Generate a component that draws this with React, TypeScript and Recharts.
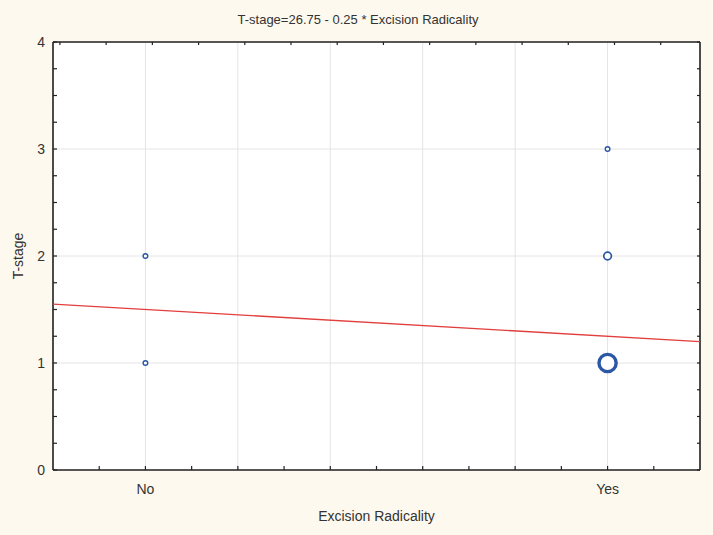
import React from "react"
import { ScatterChart, Scatter, XAxis, YAxis, CartesianGrid } from "recharts"

// Excision Radicality coded 0 = No, 1 = Yes
const categoryValues = [0, 1]
const categoryNames = ["No", "Yes"]

const xMinorTicks = [-0.1, 0, 0.1, 0.2, 0.3, 0.4, 0.5, 0.6, 0.7, 0.8, 0.9, 1, 1.1]
// the top frame's ticks sit off the grid in the original
const xTopTicks = [-0.185, -0.085, 0.015, 0.115, 0.215, 0.315, 0.415, 0.515, 0.615, 0.715, 0.815, 0.915, 1.015, 1.115]
const yMinorTicks = [0, 0.25, 0.5, 0.75, 1, 1.25, 1.5, 1.75, 2, 2.25, 2.5, 2.75, 3, 3.25, 3.5, 3.75, 4]
const gridX = [0, 0.2, 0.4, 0.6, 0.8, 1]
const gridY = [1, 2, 3]

// observed cases (n = number of overlapping cases)
const obsX = [0, 0, 1, 1, 1]
const obsY = [1, 2, 1, 2, 3]
const obsN = [1, 1, 6, 2, 1]

// fitted line, read at the plot edges
const fitX = [-0.2, 1.2]
const fitY = [1.55, 1.2]

const points = obsX.map((x, i) => ({ x, y: obsY[i], n: obsN[i] }))
const fitLine = fitX.map((x, i) => ({ x, y: fitY[i] }))

const font = "'Liberation Sans', Arial, sans-serif"
const ink = "#333"
const frame = "#222"
const blue = "#2B57A4"

function bubbleStyle(n: number) {
  if (n >= 5) return { r: 8.6, w: 3.4 }
  if (n >= 2) return { r: 3.8, w: 1.7 }
  return { r: 2.3, w: 1.4 }
}

const Bubble = (props: any) => {
  const { cx, cy, payload } = props
  const s = bubbleStyle(payload.n)
  return <circle cx={cx} cy={cy} r={s.r} fill="#fff" stroke={blue} strokeWidth={s.w} />
}

const XTick = (props: any) => {
  const { x, y, payload } = props
  const idx = categoryValues.indexOf(payload.value)
  if (idx < 0) return <g />
  return (
    <text x={x} y={y + 28} textAnchor="middle" fontSize={14} fill={ink} fontFamily={font}>
      {categoryNames[idx]}
    </text>
  )
}

const YTick = (props: any) => {
  const { x, y, payload } = props
  if (!Number.isInteger(payload.value)) return <g />
  return (
    <text x={x - 12} y={y + 5} textAnchor="end" fontSize={14} fill={ink} fontFamily={font}>
      {payload.value}
    </text>
  )
}

const NoLabel = () => <g />

export default function App() {
  const axisLine = { stroke: frame, strokeWidth: 1.6 }
  const tickLine = { stroke: frame, strokeWidth: 1.2 }
  return (
    <div
      style={{
        position: "absolute",
        left: 0,
        top: 0,
        width: 713,
        height: 535,
        background: "#FEF9EE",
        fontFamily: font,
      }}
    >
      <div
        style={{
          position: "absolute",
          top: 12,
          left: 0,
          width: 716,
          textAlign: "center",
          fontSize: 13,
          color: ink,
        }}
      >
        T-stage=26.75 - 0.25 * Excision Radicality
      </div>
      <div
        style={{
          position: "absolute",
          top: 508,
          left: 0,
          width: 753,
          textAlign: "center",
          fontSize: 14,
          color: ink,
        }}
      >
        Excision Radicality
      </div>
      <div
        style={{
          position: "absolute",
          left: 18,
          top: 256,
          transform: "translate(-50%, -50%) rotate(-90deg)",
          fontSize: 14,
          color: ink,
          whiteSpace: "nowrap",
        }}
      >
        T-stage
      </div>
      <ScatterChart width={713} height={535} margin={{ top: 12, right: 0, bottom: 0, left: 0 }}>
        <XAxis
          xAxisId="main"
          type="number"
          dataKey="x"
          domain={[-0.2, 1.2]}
          ticks={xMinorTicks}
          interval={0}
          height={65}
          tick={<XTick />}
          tickSize={-4}
          tickMargin={0}
          axisLine={axisLine}
          tickLine={tickLine}
          allowDataOverflow
        />
        <XAxis
          xAxisId="top"
          orientation="top"
          type="number"
          dataKey="x"
          domain={[-0.2, 1.2]}
          ticks={xTopTicks}
          interval={0}
          height={30}
          tick={<NoLabel />}
          tickSize={-3}
          axisLine={axisLine}
          tickLine={tickLine}
          allowDataOverflow
        />
        <YAxis
          yAxisId="main"
          type="number"
          dataKey="y"
          domain={[0, 4]}
          ticks={yMinorTicks}
          interval={0}
          width={53}
          tick={<YTick />}
          tickSize={-4}
          tickMargin={0}
          axisLine={axisLine}
          tickLine={tickLine}
          allowDataOverflow
        />
        <YAxis
          yAxisId="right"
          orientation="right"
          type="number"
          dataKey="y"
          domain={[0, 4]}
          ticks={yMinorTicks}
          interval={0}
          width={13}
          tick={<NoLabel />}
          tickSize={-3}
          axisLine={axisLine}
          tickLine={tickLine}
          allowDataOverflow
        />
        <XAxis xAxisId="grid" type="number" dataKey="x" domain={[-0.2, 1.2]} ticks={gridX} height={0} hide allowDataOverflow />
        <YAxis yAxisId="grid" type="number" dataKey="y" domain={[0, 4]} ticks={gridY} width={0} hide allowDataOverflow />
        <CartesianGrid xAxisId="grid" yAxisId="grid" stroke="#e4e4e4" fill="#fff" />
        <Scatter
          xAxisId="main"
          yAxisId="main"
          data={fitLine}
          line={{ stroke: "#E23E3C", strokeWidth: 1.4 }}
          shape={() => <g />}
          isAnimationActive={false}
        />
        <Scatter xAxisId="main" yAxisId="main" data={points} shape={<Bubble />} isAnimationActive={false} />
      </ScatterChart>
    </div>
  )
}
